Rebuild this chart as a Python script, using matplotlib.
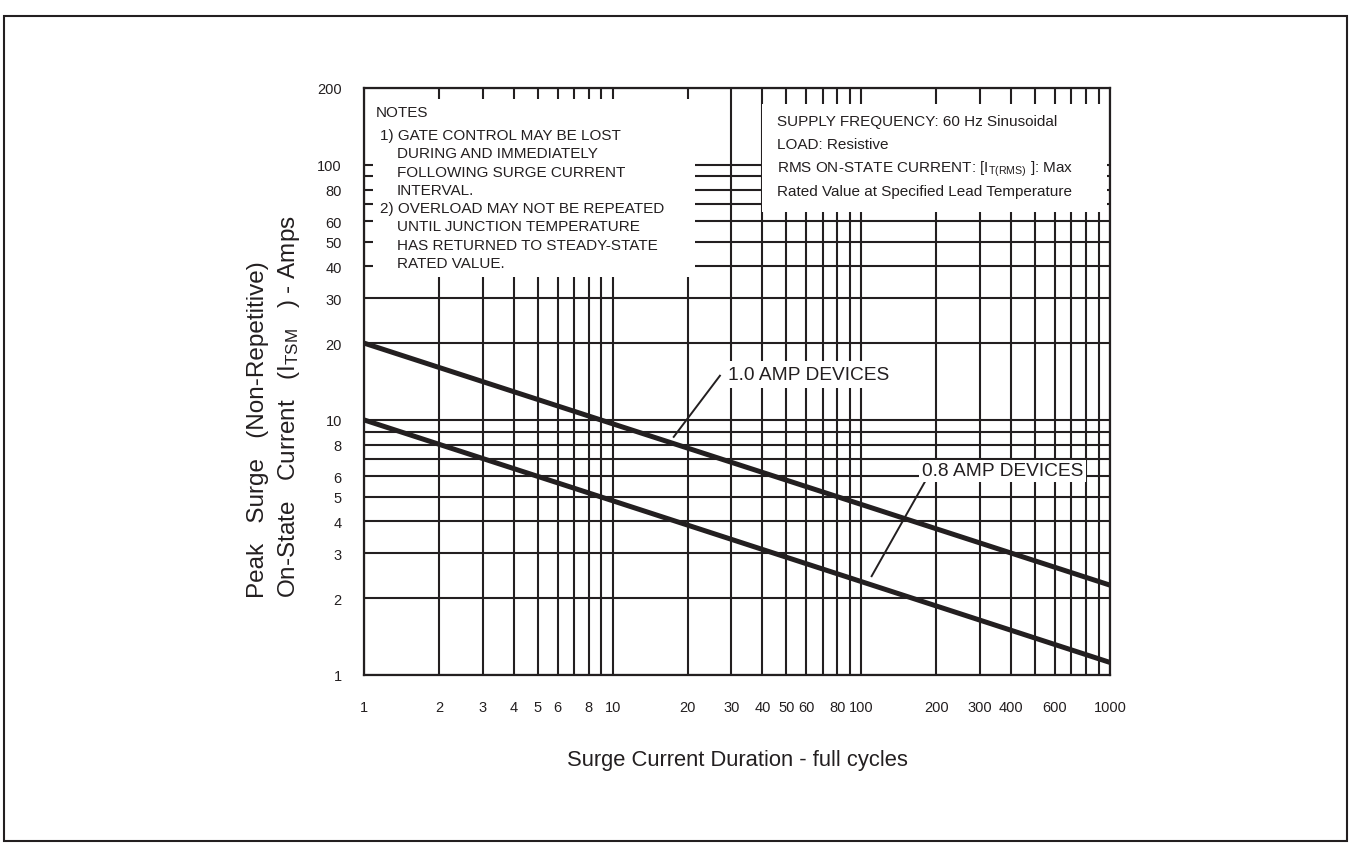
import matplotlib
matplotlib.use("Agg")
import matplotlib.pyplot as plt
from matplotlib.ticker import FixedLocator, FixedFormatter, NullFormatter
from matplotlib.patches import Rectangle

plt.rcParams["font.family"] = ["Liberation Sans", "DejaVu Sans"]
plt.rcParams["mathtext.fontset"] = "custom"
plt.rcParams["mathtext.rm"] = "Liberation Sans"
plt.rcParams["mathtext.it"] = "Liberation Sans"

INK = "#231f20"

# Surge rating curves (cycles -> peak surge amps)
cycles = [1, 1000]
surge_1a = [20, 2.25]
surge_08a = [10, 1.12]

# Axis labelling
x_ticks = [1, 2, 3, 4, 5, 6, 8, 10, 20, 30, 40, 50, 60, 80, 100, 200, 300, 400, 600, 1000]
y_ticks = [1, 2, 3, 4, 5, 6, 8, 10, 20, 30, 40, 50, 60, 80, 100, 200]
x_grid = [1, 2, 3, 4, 5, 6, 7, 8, 9, 10, 20, 30, 40, 50, 60, 70, 80, 90,
          100, 200, 300, 400, 500, 600, 700, 800, 900, 1000]
y_grid = [1, 2, 3, 4, 5, 6, 7, 8, 9, 10, 20, 30, 40, 50, 60, 70, 80, 90, 100, 200]

notes_lines = [
    ("NOTES", 376),
    ("1) GATE CONTROL MAY BE LOST", 380),
    ("DURING AND IMMEDIATELY", 397),
    ("FOLLOWING SURGE CURRENT", 397),
    ("INTERVAL.", 397),
    ("2) OVERLOAD MAY NOT BE REPEATED", 380),
    ("UNTIL JUNCTION TEMPERATURE", 397),
    ("HAS RETURNED TO STEADY-STATE", 397),
    ("RATED VALUE.", 397),
]
supply_lines = [
    "SUPPLY FREQUENCY: 60 Hz Sinusoidal",
    "LOAD: Resistive",
    r"RMS ON-STATE CURRENT: [I$_{\mathregular{T(RMS)}}$ ]: Max",
    "Rated Value at Specified Lead Temperature",
]

W, H = 1351, 845
fig = plt.figure(figsize=(W / 100, H / 100), dpi=100)
fig.patch.set_facecolor("white")


def fx(x):
    return x / W


def fy(y):
    return 1 - y / H


ax = fig.add_axes([fx(364), 169 / H, 746 / W, 587 / H])
ax.set_xscale("log")
ax.set_yscale("log")
ax.set_xlim(1, 1000)
ax.set_ylim(1, 200)

ax.xaxis.set_major_locator(FixedLocator(x_ticks))
ax.xaxis.set_major_formatter(FixedFormatter([str(v) for v in x_ticks]))
ax.xaxis.set_minor_locator(FixedLocator(x_grid))
ax.xaxis.set_minor_formatter(NullFormatter())
ax.yaxis.set_major_locator(FixedLocator(y_ticks))
ax.yaxis.set_major_formatter(FixedFormatter([str(v) for v in y_ticks]))
ax.yaxis.set_minor_locator(FixedLocator(y_grid))
ax.yaxis.set_minor_formatter(NullFormatter())

ax.tick_params(which="both", length=0, labelsize=10.5, labelcolor=INK)
ax.tick_params(axis="x", pad=18)
ax.tick_params(axis="y", pad=16)
ax.grid(which="both", color=INK, lw=1.5)
ax.set_axisbelow(True)
for s in ax.spines.values():
    s.set_color(INK)
    s.set_linewidth(1.6)

# White panels for the notes and the test conditions
ax.add_patch(Rectangle((0.012, 0.678), 0.432, 0.303, transform=ax.transAxes,
                       fc="white", ec="none", zorder=2))
ax.add_patch(Rectangle((0.5335, 0.789), 0.4625, 0.184, transform=ax.transAxes,
                       fc="white", ec="none", zorder=2))

# Rating curves
ax.plot(cycles, surge_1a, color=INK, lw=3.6, solid_capstyle="butt", zorder=4)
ax.plot(cycles, surge_08a, color=INK, lw=3.6, solid_capstyle="butt", zorder=4)

# Curve labels with leaders
ax.plot([27.0, 17.6], [14.9, 8.58], color=INK, lw=1.4, zorder=5)
ax.text(29.1, 15.1, "1.0 AMP DEVICES", fontsize=13.8, color=INK, ha="left",
        va="center", zorder=6,
        bbox=dict(boxstyle="square,pad=0.25", fc="white", ec="none"))
ax.plot([180, 110], [5.71, 2.44], color=INK, lw=1.4, zorder=5)
ax.text(175, 6.31, "0.8 AMP DEVICES", fontsize=13.8, color=INK, ha="left",
        va="center", zorder=6,
        bbox=dict(boxstyle="square,pad=0.15", fc="white", ec="none"))

# Notes text
for i, (line, x) in enumerate(notes_lines):
    y = 113 if i == 0 else 136 + (i - 1) * 18.3
    fig.text(fx(x), fy(y), line, fontsize=11, color=INK, ha="left", va="center",
             zorder=7)

# Test conditions text
for line, y in zip(supply_lines, [122, 145, 169, 192]):
    fig.text(fx(777), fy(y), line, fontsize=11, color=INK, ha="left",
             va="center", zorder=7)

# Axis titles
fig.text(fx(258), fy(598), "Peak   Surge   (Non-Repetitive)", rotation=90,
         fontsize=17.5, color=INK, ha="center", va="bottom")
fig.text(fx(289), fy(598), r"On-State   Current   (I$_{\mathregular{TSM}}$   ) - Amps",
         rotation=90, fontsize=17.5, color=INK, ha="center", va="bottom")
fig.text(fx(737), fy(761), "Surge Current Duration - full cycles", fontsize=15.8,
         color=INK, ha="center", va="center")

# Frame around the figure
fig.add_artist(Rectangle((fx(4), 3 / H), 1343 / W, 825 / H, transform=fig.transFigure,
                         fill=False, ec=INK, lw=1.5))

fig.savefig("out.png", dpi=100, facecolor="white")
